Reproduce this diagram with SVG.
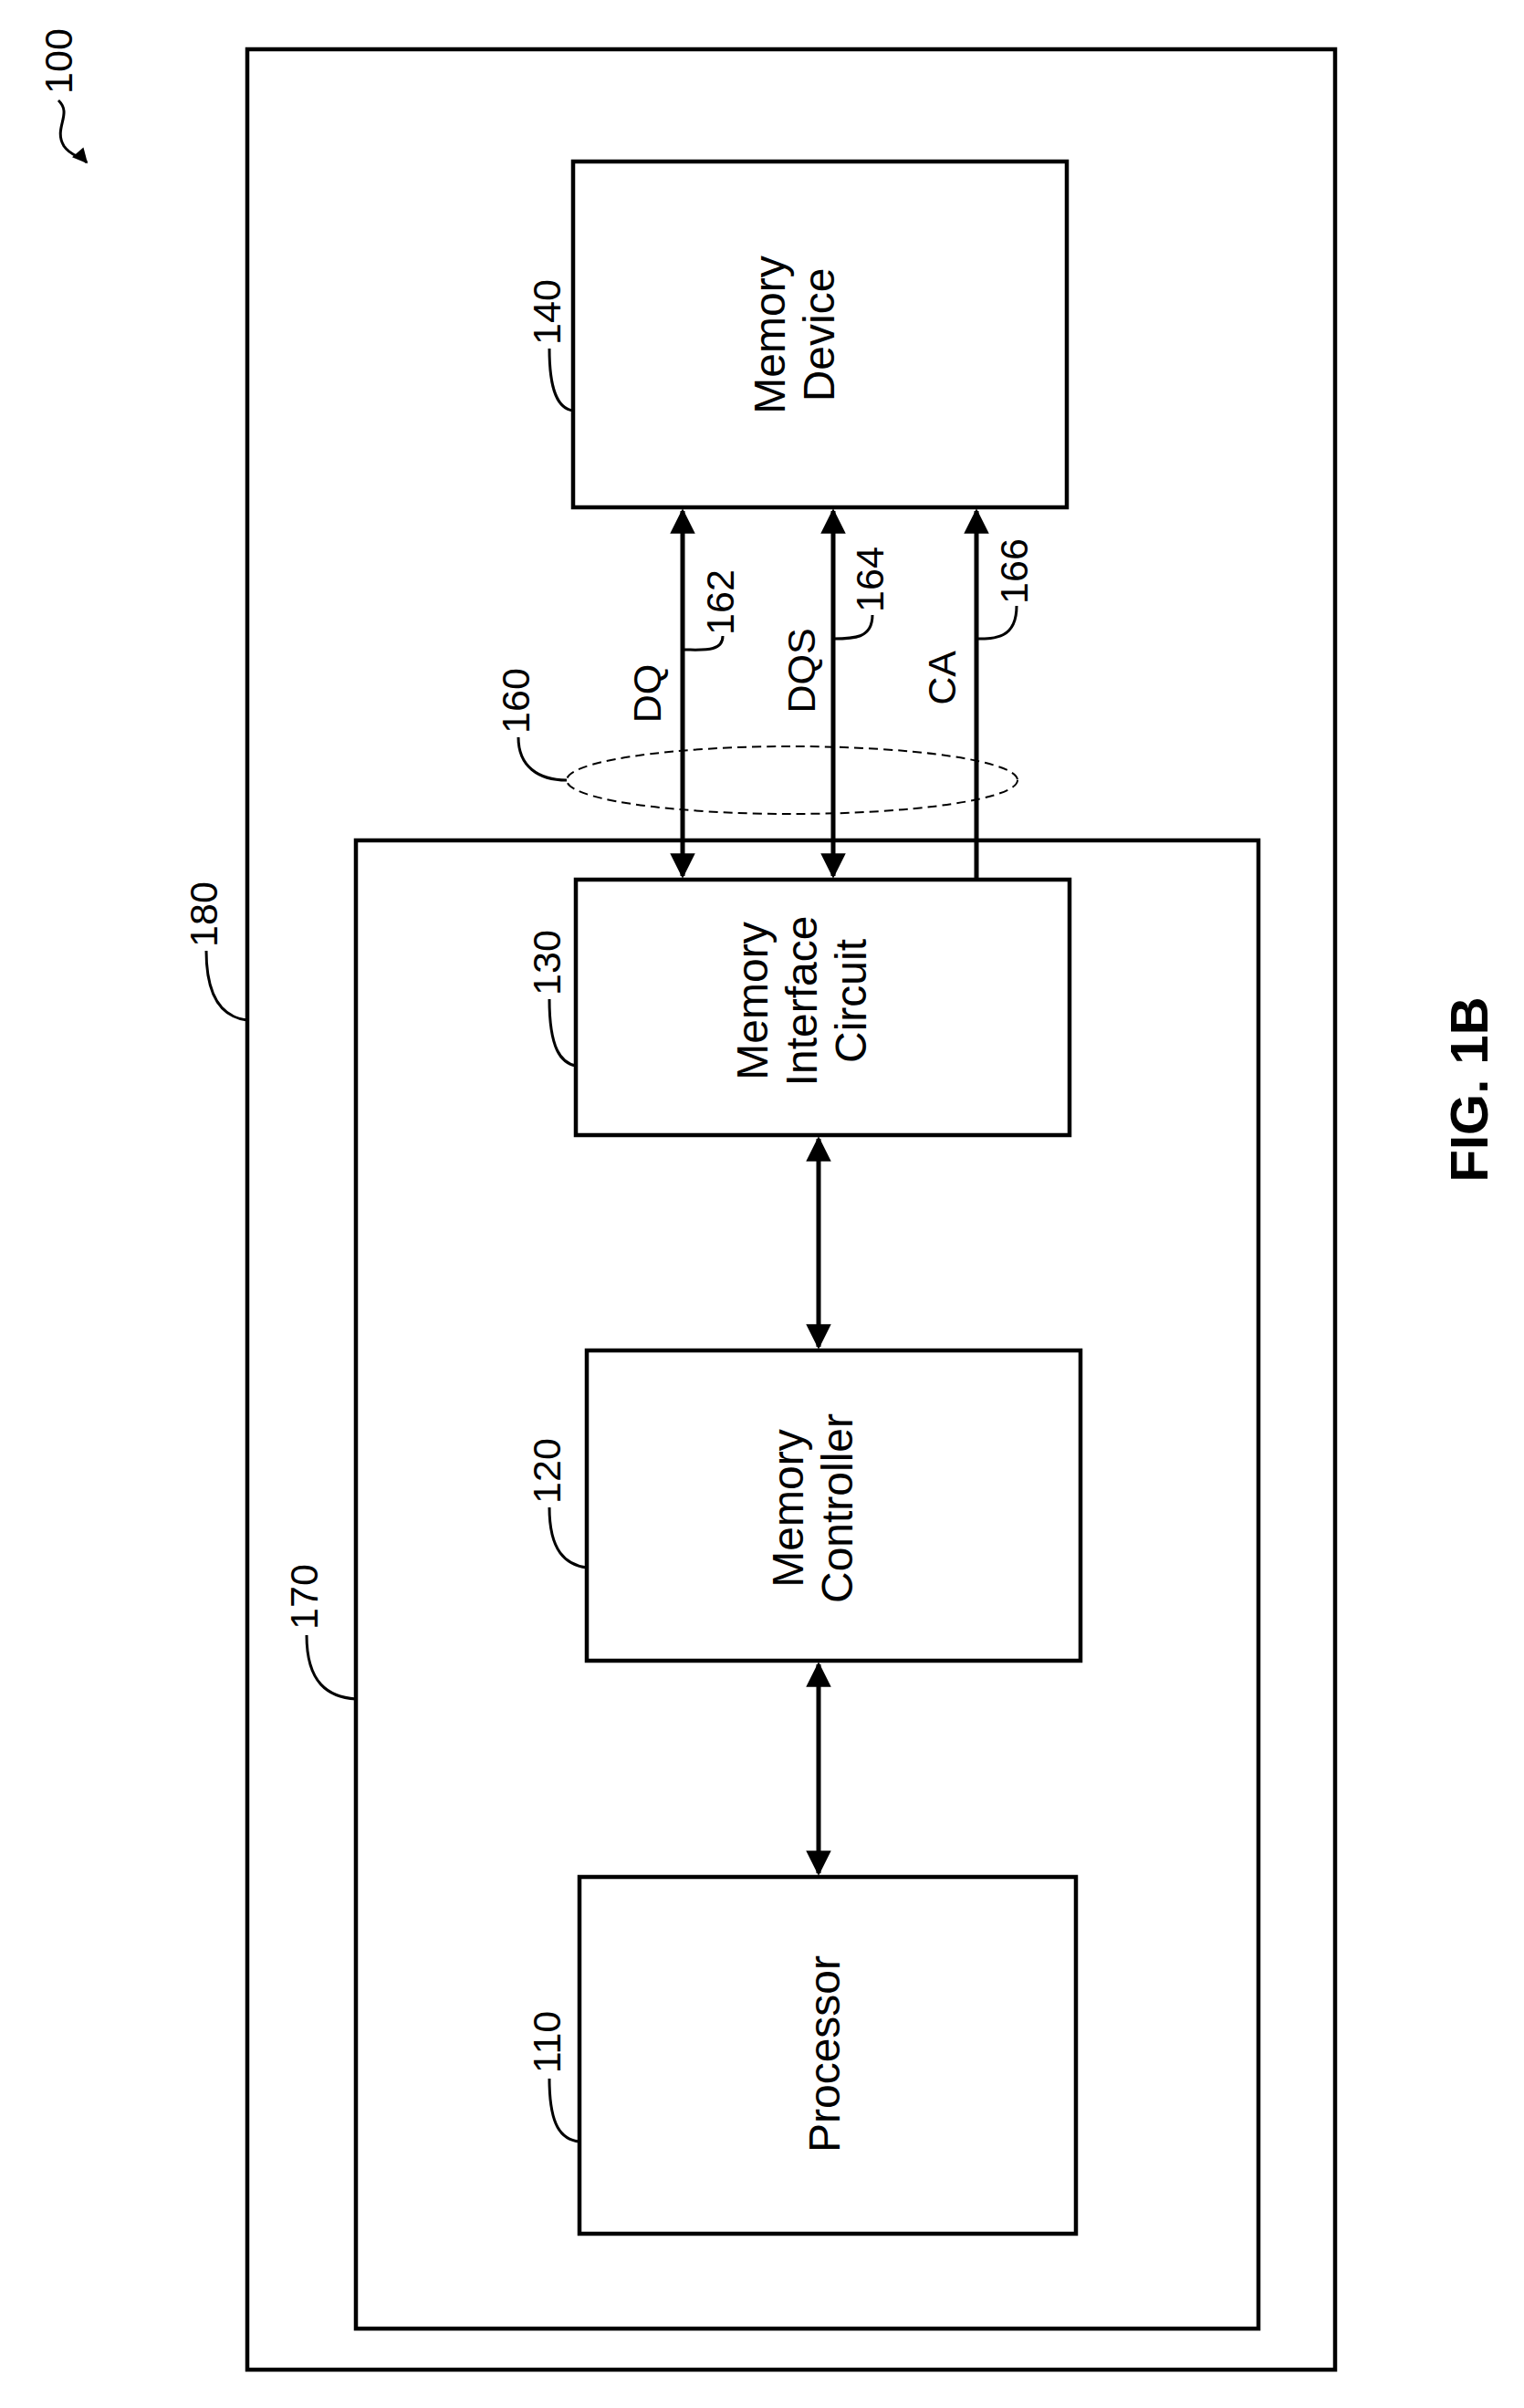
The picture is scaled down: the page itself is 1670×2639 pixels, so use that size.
<svg xmlns="http://www.w3.org/2000/svg" width="1670" height="2639" viewBox="0 0 1670 2639">
<style>
.box{fill:none;stroke:#000;stroke-width:4.5}
.ln{fill:none;stroke:#000;stroke-width:5}
.ld{fill:none;stroke:#000;stroke-width:3}
text{font-family:"Liberation Sans",Arial,sans-serif;fill:#000}
.t{font-size:48px;text-anchor:middle}
.n{font-size:43px;text-anchor:middle}
</style>
<defs>
<marker id="ah" viewBox="0 0 10 10" refX="9" refY="5" markerWidth="6" markerHeight="5.5" markerUnits="strokeWidth" orient="auto-start-reverse"><path d="M0,0 L10,5 L0,10 z" fill="#000"/></marker>
</defs>
<rect width="1670" height="2639" fill="#fff"/>
<g id="n180"><rect class="box" x="271" y="54" width="1192" height="2543"/><text class="n" transform="translate(238,1002) rotate(-90)">180</text><path class="ld" d="M226,1042 C226,1095 245,1115 271,1118"/></g>
<g id="n170"><rect class="box" x="390" y="921" width="989" height="1631"/><text class="n" transform="translate(348,1750) rotate(-90)">170</text><path class="ld" d="M336,1792 C336,1845 360,1860 390,1862"/></g>
<g id="n140"><rect class="box" x="628" y="177" width="541" height="379"/><text class="t" transform="translate(870,367) rotate(-90)"><tspan x="0" y="-10">Memory</tspan><tspan x="0" y="44">Device</tspan></text><text class="n" transform="translate(614,342) rotate(-90)">140</text><path class="ld" d="M602,382 C602,430 612,448 628,450"/></g>
<g id="n130"><rect class="box" x="631" y="964" width="541" height="280"/><text class="t" transform="translate(878,1097) rotate(-90)"><tspan x="0" y="-37">Memory</tspan><tspan x="0" y="17">Interface</tspan><tspan x="0" y="71">Circuit</tspan></text><text class="n" transform="translate(614,1055) rotate(-90)">130</text><path class="ld" d="M602,1095 C602,1150 615,1165 631,1168"/></g>
<g id="n120"><rect class="box" x="643" y="1480" width="541" height="340"/><text class="t" transform="translate(890,1653) rotate(-90)"><tspan x="0" y="-10">Memory</tspan><tspan x="0" y="44">Controller</tspan></text><text class="n" transform="translate(614,1612) rotate(-90)">120</text><path class="ld" d="M602,1652 C602,1700 620,1715 643,1718"/></g>
<g id="n110"><rect class="box" x="635" y="2057" width="544" height="391"/><text class="t" transform="translate(920,2251) rotate(-90)">Processor</text><text class="n" transform="translate(614,2238) rotate(-90)">110</text><path class="ld" d="M602,2278 C602,2330 615,2345 635,2347"/></g>
<g id="n160"><ellipse cx="868" cy="855" rx="247" ry="37" fill="none" stroke="#000" stroke-width="2" stroke-dasharray="10,6"/><text class="n" transform="translate(580,768) rotate(-90)">160</text><path class="ld" d="M568,808 C568,840 590,855 621,855"/></g>
<g id="connectors">
<line class="ln" x1="748" y1="960" x2="748" y2="560" marker-start="url(#ah)" marker-end="url(#ah)"/>
<line class="ln" x1="913" y1="960" x2="913" y2="560" marker-start="url(#ah)" marker-end="url(#ah)"/>
<line class="ln" x1="1070" y1="964" x2="1070" y2="560" marker-end="url(#ah)"/>
<line class="ln" x1="897" y1="1248" x2="897" y2="1476" marker-start="url(#ah)" marker-end="url(#ah)"/>
<line class="ln" x1="897" y1="1824" x2="897" y2="2053" marker-start="url(#ah)" marker-end="url(#ah)"/>
<text class="n" transform="translate(724,760) rotate(-90)">DQ</text>
<text class="n" transform="translate(804,660) rotate(-90)">162</text><path class="ld" d="M792,697 C792,715 770,712 748,712"/>
<text class="n" transform="translate(893,735) rotate(-90)">DQS</text>
<text class="n" transform="translate(968,635) rotate(-90)">164</text><path class="ld" d="M956,674 C956,700 935,700 913,700"/>
<text class="n" transform="translate(1047,743) rotate(-90)">CA</text>
<text class="n" transform="translate(1126,626) rotate(-90)">166</text><path class="ld" d="M1114,664 C1114,700 1090,700 1070,700"/>
</g>
<g id="n100"><text class="n" transform="translate(79,67) rotate(-90)">100</text><path class="ld" d="M64,110 C80,125 58,140 70,160 C78,172 88,170 95,178" marker-end="url(#ah)"/></g>
<text transform="translate(1630,1194) rotate(-90)" font-size="58" font-weight="bold" text-anchor="middle">FIG. 1B</text>
</svg>
